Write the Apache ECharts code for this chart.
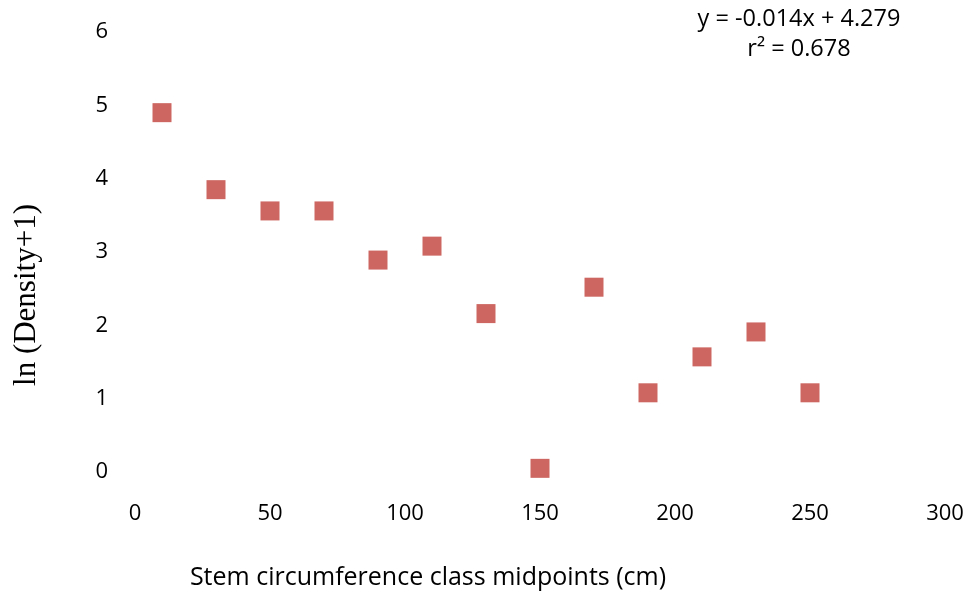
<!DOCTYPE html>
<html>
<head>
<meta charset="utf-8">
<script src="https://cdn.jsdelivr.net/npm/echarts@6/dist/echarts.min.js"></script>
<style>html,body{margin:0;padding:0;background:#fff;}#c{width:969px;height:594px;}</style>
</head>
<body>
<div id="c"></div>
<script>
const xValues = [10, 30, 50, 70, 90, 110, 130, 150, 170, 190, 210, 230, 250];
const yValues = [4.90, 3.85, 3.56, 3.56, 2.89, 3.08, 2.16, 0.05, 2.52, 1.08, 1.57, 1.91, 1.08];
const xTitle = 'Stem circumference class midpoints (cm)';
const yTitle = 'ln (Density+1)';
const eqLine1 = 'y = -0.014x + 4.279';
const eqLine2 = 'r² = 0.678';

const chart = echarts.init(document.getElementById('c'), null, {renderer: 'canvas'});
const font = "'Open Sans', 'Liberation Sans', sans-serif";
chart.setOption({
  animation: false,
  backgroundColor: '#fff',
  grid: {left: 135, right: 24, top: 32, bottom: 122, containLabel: false},
  xAxis: {
    type: 'value', min: 0, max: 300, interval: 50,
    axisLine: {show: false}, axisTick: {show: false}, splitLine: {show: false},
    axisLabel: {color: '#000', fontSize: 22, fontFamily: font, margin: 31}
  },
  yAxis: {
    type: 'value', min: 0, max: 6, interval: 1,
    axisLine: {show: false}, axisTick: {show: false}, splitLine: {show: false},
    axisLabel: {color: '#000', fontSize: 22, fontFamily: font, margin: 27}
  },
  series: [{
    type: 'scatter',
    symbol: 'rect',
    symbolSize: 19,
    itemStyle: {color: '#cd6660', opacity: 1},
    data: xValues.map((x, i) => [x, yValues[i]])
  }],
  graphic: [
    {type: 'text', x: 27, y: 295, rotation: Math.PI / 2,
     style: {text: yTitle, fill: '#000', font: "31px 'Liberation Serif', serif", textAlign: 'center', textVerticalAlign: 'middle'}},
    {type: 'text', x: 428, y: 578,
     style: {text: xTitle, fill: '#000', font: "25px " + font, textAlign: 'center', textVerticalAlign: 'middle'}},
    {type: 'text', x: 799, y: 19,
     style: {text: eqLine1, fill: '#000', font: "23.5px " + font, textAlign: 'center', textVerticalAlign: 'middle'}},
    {type: 'text', x: 799, y: 49,
     style: {text: eqLine2, fill: '#000', font: "23.5px " + font, textAlign: 'center', textVerticalAlign: 'middle'}}
  ]
});
</script>
</body>
</html>
